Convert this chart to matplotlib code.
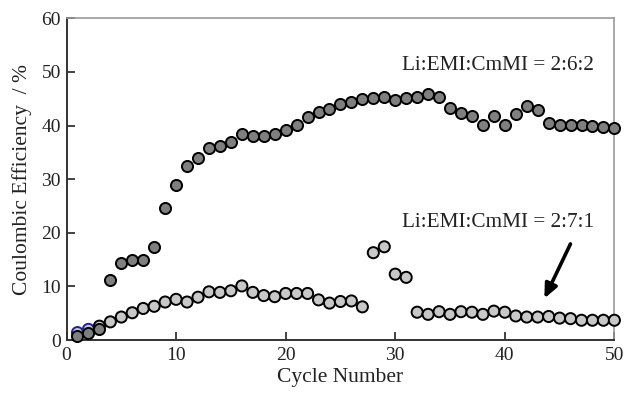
import matplotlib.pyplot as plt
import numpy as np

plt.rcParams['font.family'] = ['Liberation Serif', 'DejaVu Serif']

cycles = list(range(1, 51))

# Li:EMI:CmMI = 2:6:2
eff_262 = [0.8, 1.4, 2.0, 11.2, 14.3, 14.9, 14.9, 17.4, 24.7, 29.0,
           32.4, 34.0, 35.9, 36.2, 37.0, 38.4, 38.1, 38.1, 38.5, 39.1,
           40.2, 41.6, 42.5, 43.1, 44.0, 44.4, 44.9, 45.2, 45.3, 44.8,
           45.1, 45.4, 45.9, 45.4, 43.2, 42.3, 41.7, 40.2, 41.7, 40.2,
           42.2, 43.7, 42.9, 40.5, 40.2, 40.2, 40.1, 39.9, 39.8, 39.5]

# Li:EMI:CmMI = 2:7:1
eff_271 = [1.4, 2.0, 2.6, 3.4, 4.3, 5.1, 5.9, 6.3, 7.1, 7.6,
           7.1, 8.0, 9.0, 8.9, 9.2, 10.1, 8.9, 8.3, 8.1, 8.7,
           8.7, 8.7, 7.5, 6.9, 7.2, 7.3, 6.2, 16.3, 17.4, 12.3,
           11.7, 5.2, 4.8, 5.3, 4.8, 5.3, 5.2, 4.8, 5.4, 5.2,
           4.5, 4.3, 4.3, 4.4, 4.1, 4.0, 3.7, 3.7, 3.7, 3.7]

label_262 = "Li:EMI:CmMI = 2:6:2"
label_271 = "Li:EMI:CmMI = 2:7:1"

fig = plt.figure(figsize=(6.24, 3.95), dpi=100)
ax = fig.add_axes([0.1066, 0.139, 0.878, 0.8145])

# first two points of the 2:7:1 run have blue outlines in the original
edges = ['#2020a0' if c <= 2 else 'black' for c in cycles]
ax.scatter(cycles, eff_271, s=64, c='#c8c8c8', edgecolors=edges,
           linewidths=1.4, zorder=3, clip_on=False)
ax.scatter(cycles, eff_262, s=64, c='#7f7f7f', edgecolors='black',
           linewidths=1.4, zorder=4, clip_on=False)

ax.text(30.6, 51.3, label_262, fontsize=15.3, ha='left', va='center', color='#222222')
ax.text(30.6, 21.9, label_271, fontsize=15.3, ha='left', va='center', color='#222222')
ax.annotate('', xy=(43.5, 7.3), xytext=(46.1, 18.4),
            arrowprops=dict(arrowstyle='-|>,head_length=0.85,head_width=0.38',
                            color='black', lw=2.6))

ax.set_xlim(0, 50)
ax.set_ylim(0, 60)
ax.set_xticks(np.arange(0, 51, 10))
ax.set_yticks(np.arange(0, 61, 10))
ax.tick_params(direction='in', length=6, width=1.2, labelsize=14,
               colors='#222222', top=False, right=False)
ax.tick_params(axis='x', pad=5)
ax.tick_params(axis='y', pad=4)
for side in ['left', 'bottom']:
    ax.spines[side].set_color('#333333')
    ax.spines[side].set_linewidth(1.4)
for side in ['top', 'right']:
    ax.spines[side].set_color('#999999')
    ax.spines[side].set_linewidth(1.2)

ax.set_xlabel("Cycle Number", fontsize=15.5, color='#222222', labelpad=3)
ax.set_ylabel("Coulombic Efficiency  / %", fontsize=15.5, color='#222222', labelpad=7)

fig.savefig("out.png", dpi=100)
